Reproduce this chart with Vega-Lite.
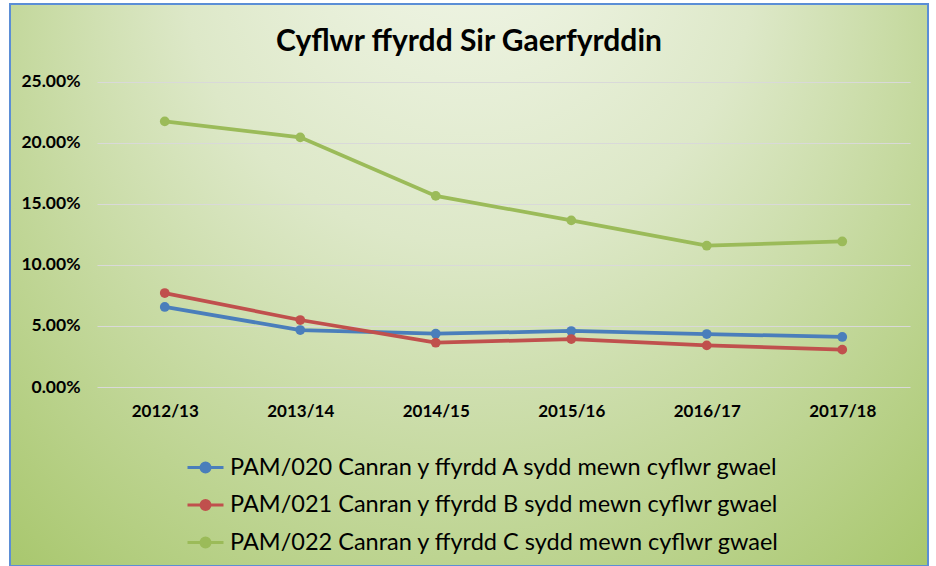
{
  "$schema": "https://vega.github.io/schema/vega-lite/v6.json",
  "autosize": "none",
  "padding": {"left": 10, "top": 4, "right": 8, "bottom": 0},
  "width": 918,
  "height": 562,
  "background": "#ffffff",
  "view": {
    "stroke": "#5b8ed6",
    "strokeWidth": 2,
    "fill": {
      "gradient": "radial",
      "x1": 0.5, "y1": 0, "r1": 0,
      "x2": 0.5, "y2": 0.36, "r2": 0.78,
      "stops": [
        {"offset": 0, "color": "#f7faf1"},
        {"offset": 0.4, "color": "#dde8c8"},
        {"offset": 1, "color": "#9dc05a"}
      ]
    }
  },
  "title": {
    "text": "Cyflwr ffyrdd Sir Gaerfyrddin",
    "font": "Lato",
    "fontSize": 30,
    "fontWeight": "bold",
    "color": "#000000",
    "anchor": "middle",
    "baseline": "alphabetic",
    "offset": -77
  },
  "data": {
    "values": [
      {"year": "2012/13", "series": "PAM/020 Canran y ffyrdd A sydd mewn cyflwr gwael", "value": 0.0656},
      {"year": "2013/14", "series": "PAM/020 Canran y ffyrdd A sydd mewn cyflwr gwael", "value": 0.0467},
      {"year": "2014/15", "series": "PAM/020 Canran y ffyrdd A sydd mewn cyflwr gwael", "value": 0.0437},
      {"year": "2015/16", "series": "PAM/020 Canran y ffyrdd A sydd mewn cyflwr gwael", "value": 0.0459},
      {"year": "2016/17", "series": "PAM/020 Canran y ffyrdd A sydd mewn cyflwr gwael", "value": 0.0434},
      {"year": "2017/18", "series": "PAM/020 Canran y ffyrdd A sydd mewn cyflwr gwael", "value": 0.0410},
      {"year": "2012/13", "series": "PAM/021 Canran y ffyrdd B sydd mewn cyflwr gwael", "value": 0.0770},
      {"year": "2013/14", "series": "PAM/021 Canran y ffyrdd B sydd mewn cyflwr gwael", "value": 0.0549},
      {"year": "2014/15", "series": "PAM/021 Canran y ffyrdd B sydd mewn cyflwr gwael", "value": 0.0363},
      {"year": "2015/16", "series": "PAM/021 Canran y ffyrdd B sydd mewn cyflwr gwael", "value": 0.0393},
      {"year": "2016/17", "series": "PAM/021 Canran y ffyrdd B sydd mewn cyflwr gwael", "value": 0.0341},
      {"year": "2017/18", "series": "PAM/021 Canran y ffyrdd B sydd mewn cyflwr gwael", "value": 0.0306},
      {"year": "2012/13", "series": "PAM/022 Canran y ffyrdd C sydd mewn cyflwr gwael", "value": 0.2177},
      {"year": "2013/14", "series": "PAM/022 Canran y ffyrdd C sydd mewn cyflwr gwael", "value": 0.2046},
      {"year": "2014/15", "series": "PAM/022 Canran y ffyrdd C sydd mewn cyflwr gwael", "value": 0.1566},
      {"year": "2015/16", "series": "PAM/022 Canran y ffyrdd C sydd mewn cyflwr gwael", "value": 0.1366},
      {"year": "2016/17", "series": "PAM/022 Canran y ffyrdd C sydd mewn cyflwr gwael", "value": 0.1158},
      {"year": "2017/18", "series": "PAM/022 Canran y ffyrdd C sydd mewn cyflwr gwael", "value": 0.1193}
    ]
  },
  "mark": {"type": "line", "strokeWidth": 3.75, "point": {"filled": true, "size": 95}},
  "encoding": {
    "x": {
      "field": "year",
      "type": "ordinal",
      "scale": {"type": "point", "range": [87, 900], "padding": 0.5},
      "axis": {
        "title": null,
        "orient": "bottom",
        "offset": -179,
        "domain": false,
        "ticks": false,
        "grid": false,
        "labelAngle": 0,
        "labelFont": "Lato",
        "labelFontSize": 17,
        "labelFontWeight": "bold",
        "labelColor": "#000000",
        "labelPadding": 16
      }
    },
    "y": {
      "field": "value",
      "type": "quantitative",
      "scale": {"domain": [-0.1467, 0.3139], "nice": false, "zero": false},
      "axis": {
        "title": null,
        "orient": "left",
        "offset": -87,
        "values": [0, 0.05, 0.1, 0.15, 0.2, 0.25],
        "format": ".2%",
        "domain": false,
        "ticks": false,
        "grid": true,
        "gridColor": "#d9d9d9",
        "gridWidth": 1,
        "labelFont": "Lato",
        "labelFontSize": 17.5,
        "labelFontWeight": "bold",
        "labelColor": "#000000",
        "labelPadding": 17
      }
    },
    "color": {
      "field": "series",
      "type": "nominal",
      "scale": {"range": ["#4a7ebb", "#c0504d", "#9bbb59"]},
      "legend": {
        "title": null,
        "orient": "none",
        "legendX": 176,
        "legendY": 444,
        "padding": 0,
        "symbolType": "M-1,0L1,0M-0.25,0A0.25,0.25 0 1,1 0.25,0A0.25,0.25 0 1,1 -0.25,0Z",
        "symbolSize": 1296,
        "symbolStrokeWidth": 3,
        "labelFont": "Lato",
        "labelFontSize": 23.5,
        "labelColor": "#000000",
        "labelOffset": 5,
        "labelLimit": 800,
        "rowPadding": 6.5,
        "encode": {
          "symbols": {
            "update": {
              "fill": {"scale": "color", "field": "value"},
              "stroke": {"scale": "color", "field": "value"}
            }
          }
        }
      }
    }
  }
}
